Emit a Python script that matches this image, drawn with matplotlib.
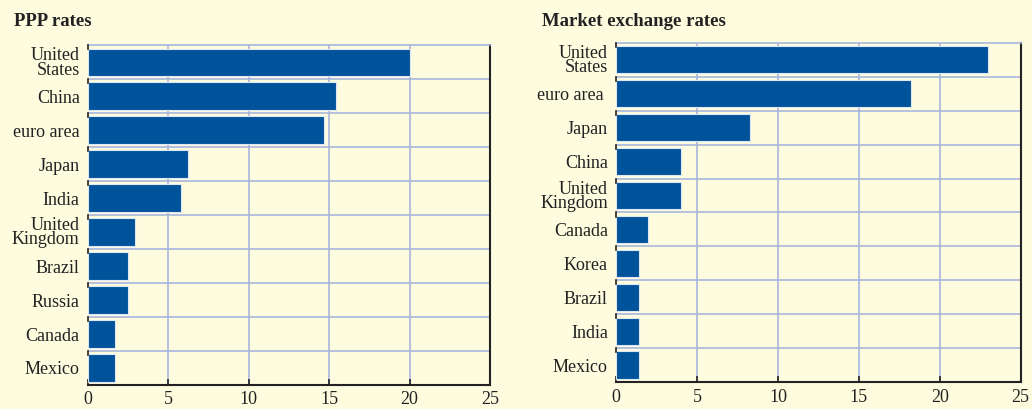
import matplotlib.pyplot as plt
import numpy as np

# PPP rates (top to bottom)
ppp_countries = ["United\nStates", "China", "euro area", "Japan", "India",
                 "United\nKingdom", "Brazil", "Russia", "Canada", "Mexico"]
ppp_values = [20.0, 15.4, 14.7, 6.2, 5.8, 2.9, 2.5, 2.5, 1.7, 1.7]

# market exchange rates (top to bottom)
mkt_countries = ["United\nStates", "euro area ", "Japan", "China", "United\nKingdom",
                 "Canada", "Korea", "Brazil", "India", "Mexico"]
mkt_values = [23.0, 18.2, 8.3, 4.0, 4.0, 2.0, 1.4, 1.4, 1.4, 1.4]

xticks = [0, 5, 10, 15, 20, 25]

bg = "#fefcdf"
bar_col = "#00529b"
grid_col = "#a9b5dc"

plt.rcParams['font.family'] = ['Liberation Serif', 'DejaVu Serif']

fig = plt.figure(figsize=(10.32, 4.09), dpi=100, facecolor=bg)


def panel(rect, names, vals, title, title_x, title_y, tickpad):
    ax = fig.add_axes(rect, facecolor=bg)
    n = len(vals)
    y = np.arange(n)
    ax.barh(y, vals, height=0.8, color=bar_col, edgecolor="#dde6f2", linewidth=0.8, zorder=3)
    ax.set_ylim(n - 0.5, -0.5)
    ax.set_xlim(0, 25)
    # vertical grid
    for v in xticks[1:-1]:
        ax.axvline(v, color=grid_col, lw=1.2, zorder=1)
    # row separators
    for b in np.arange(0.5, n - 1, 1.0):
        ax.axhline(b, color=grid_col, lw=1.2, zorder=1)
        ax.plot([0, 0], [b, b + 0.12], color="#222222", lw=1.2, zorder=4, clip_on=False)
    ax.plot([0, 0], [-0.5, -0.38], color="#222222", lw=1.2, zorder=4, clip_on=False)
    ax.set_yticks(y)
    ax.set_yticklabels(names, fontsize=13, linespacing=0.8, color="#222222")
    ax.tick_params(axis="y", length=0, pad=6)
    ax.set_xticks(xticks)
    ax.set_xticklabels([str(t) for t in xticks], fontsize=13, color="#222222")
    ax.tick_params(axis="x", direction="in", length=4, width=1.2, color="#222222", pad=tickpad)
    ax.spines["left"].set_visible(False)
    ax.spines["top"].set_color(grid_col)
    ax.spines["top"].set_linewidth(1.2)
    ax.spines["right"].set_color("#222222")
    ax.spines["right"].set_linewidth(1.5)
    ax.spines["bottom"].set_color("#222222")
    ax.spines["bottom"].set_linewidth(1.5)
    fig.text(title_x, title_y, title, fontsize=13.5, fontweight="bold", color="#222222",
             ha="left", va="center")
    return ax


panel([0.0853, 0.0587, 0.3895, 0.831], ppp_countries, ppp_values, "PPP rates",
      14 / 1032, 1 - 22 / 409, 4)
panel([0.597, 0.066, 0.392, 0.829], mkt_countries, mkt_values, "Market exchange rates",
      542 / 1032, 1 - 21 / 409, 5)

fig.savefig("out.png", dpi=100, facecolor=bg)
